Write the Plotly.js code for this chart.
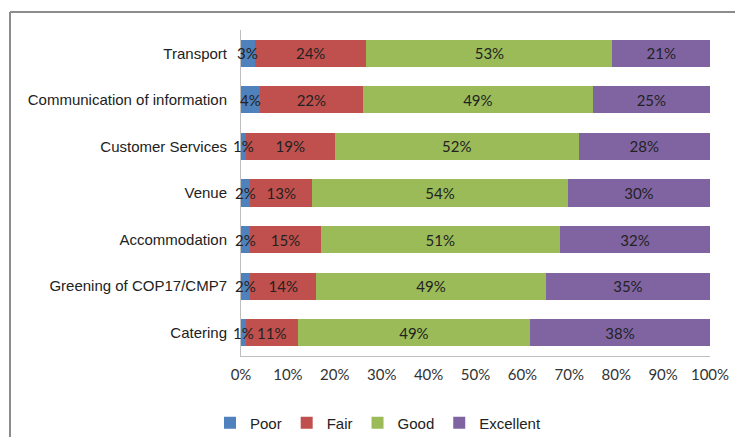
<!DOCTYPE html>
<html>
<head>
<meta charset="utf-8">
<script src="https://cdn.plot.ly/plotly-3.0.1.min.js"></script>
<style>
  html, body { margin: 0; padding: 0; background: #fff; }
  #chart { width: 735px; height: 437px; }
</style>
</head>
<body>
<div id="chart"></div>
<script>
// Categories, top to bottom
const categories = [
  "Transport",
  "Communication of information",
  "Customer Services",
  "Venue",
  "Accommodation",
  "Greening of COP17/CMP7",
  "Catering"
];
const poor      = [3, 4, 1, 2, 2, 2, 1];
const fair      = [24, 22, 19, 13, 15, 14, 11];
const good      = [53, 49, 52, 54, 51, 49, 49];
const excellent = [21, 25, 28, 30, 32, 35, 38];
const seriesNames = ["Poor", "Fair", "Good", "Excellent"];
const xTickVals = [0, 10, 20, 30, 40, 50, 60, 70, 80, 90, 100];
const xTickText = ["0%", "10%", "20%", "30%", "40%", "50%", "60%", "70%", "80%", "90%", "100%"];

const colors = ["#4F81BD", "#C0504D", "#9BBB59", "#8064A2"];
const seriesValues = [poor, fair, good, excellent];
const labelFont = { family: "Lato, 'Open Sans', sans-serif", size: 15, color: "#222" };

const traces = seriesValues.map((vals, i) => ({
  type: "bar",
  orientation: "h",
  name: seriesNames[i],
  y: categories,
  x: vals,
  text: vals.map(v => v + "%"),
  // the narrow "Poor" segments get their labels as annotations (they overflow the bar)
  textposition: i === 0 ? "none" : "inside",
  insidetextanchor: "middle",
  textangle: 0,
  constraintext: "none",
  textfont: labelFont,
  marker: { color: colors[i], line: { width: 0 } },
  hoverinfo: "name+text"
}));

// Labels for the narrow "Poor" segments, centred on their (normalised) segment
const totals = categories.map((c, k) => poor[k] + fair[k] + good[k] + excellent[k]);
const poorLabels = categories.map((c, k) => ({
  x: poor[k] / totals[k] * 100 / 2,
  y: c,
  xref: "x", yref: "y",
  text: poor[k] + "%",
  showarrow: false,
  font: labelFont
}));

// Frame (left and top border lines like the original picture)
const L = 241, R = 25, T = 30, B = 81, W = 735, H = 437;
const pw = W - L - R, ph = H - T - B;
const px = x => (x - L) / pw;
const py = y => (H - B - y) / ph;

const layout = {
  width: W, height: H,
  margin: { l: L, r: R, t: T, b: B, pad: 0, autoexpand: false },
  paper_bgcolor: "#fff",
  plot_bgcolor: "#fff",
  barmode: "stack",
  barnorm: "percent",
  bargap: 0.42,
  showlegend: true,
  legend: {
    orientation: "h",
    x: px(378), xanchor: "center",
    y: py(423), yanchor: "middle",
    font: { family: "'Liberation Sans', Arial, sans-serif", size: 15, color: "#222" },
    itemwidth: 30,
    tracegroupgap: 0,
    traceorder: "normal"
  },
  annotations: poorLabels,
  xaxis: {
    range: [0, 100],
    tickvals: xTickVals,
    ticktext: xTickText,
    showgrid: false,
    zeroline: false,
    showline: true,
    linecolor: "#bfbfbf",
    linewidth: 1,
    ticks: "",
    tickfont: { family: "Lato, 'Open Sans', sans-serif", size: 15, color: "#333" },
    ticklabelstandoff: 5,
    automargin: false,
    fixedrange: true
  },
  yaxis: {
    type: "category",
    autorange: "reversed",
    showgrid: false,
    zeroline: false,
    showline: true,
    linecolor: "#bfbfbf",
    linewidth: 1,
    ticks: "",
    tickfont: { family: "'Liberation Sans', Arial, sans-serif", size: 15, color: "#222" },
    ticklabelstandoff: 10,
    automargin: false,
    fixedrange: true
  },
  shapes: [
    { type: "line", xref: "paper", yref: "paper",
      x0: px(10), x1: px(740), y0: py(12), y1: py(12),
      line: { color: "#8c8c8c", width: 2 } },
    { type: "line", xref: "paper", yref: "paper",
      x0: px(10), x1: px(10), y0: py(12), y1: py(440),
      line: { color: "#8c8c8c", width: 2 } }
  ]
};

Plotly.newPlot("chart", traces, layout, { displayModeBar: false, staticPlot: true });
</script>
</body>
</html>
